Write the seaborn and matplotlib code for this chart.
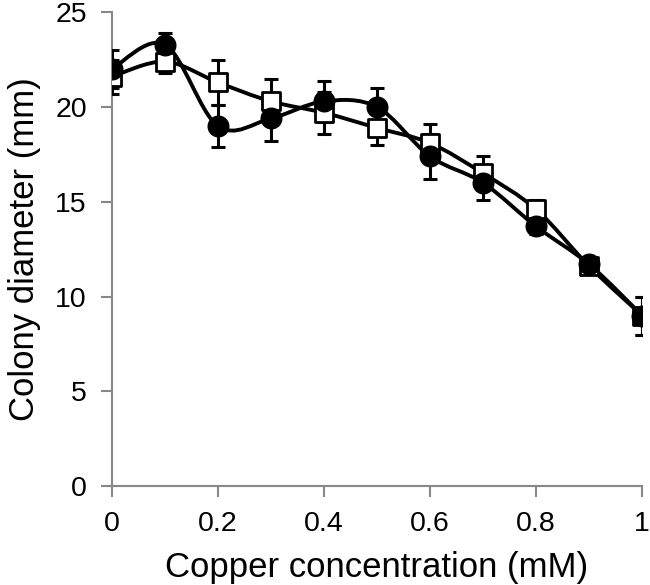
import numpy as np
import matplotlib
matplotlib.use('Agg')
import matplotlib.pyplot as plt
from matplotlib.path import Path
from matplotlib.patches import PathPatch
import seaborn as sns

# copper concentration (mM)
conc = [0.0, 0.1, 0.2, 0.3, 0.4, 0.5, 0.6, 0.7, 0.8, 0.9, 1.0]
# filled circles
circle_mean = [22.0, 23.3, 19.0, 19.4, 20.3, 20.0, 17.4, 16.0, 13.7, 11.7, 9.0]
circle_err = [1.0, 0.6, 1.1, 1.2, 1.1, 1.0, 1.2, 0.9, 0.4, 0.4, 1.0]
# open squares
square_mean = [21.6, 22.4, 21.3, 20.3, 19.7, 18.9, 18.1, 16.5, 14.6, 11.6, 9.0]
square_err = [0.9, 0.6, 1.2, 1.2, 1.1, 0.9, 1.0, 0.9, 0.5, 0.4, 1.0]

xticks = [0, 0.2, 0.4, 0.6, 0.8, 1]
xticklabels = ['0', '0.2', '0.4', '0.6', '0.8', '1']
yticks = [0, 5, 10, 15, 20, 25]


def smooth_path(x, y, t=1 / 6):
    # Excel-like smoothed line, drawn as cubic bezier segments
    x = np.asarray(x, float)
    y = np.asarray(y, float)
    n = len(x)
    verts = [(x[0], y[0])]
    codes = [Path.MOVETO]
    for i in range(n - 1):
        p0 = np.array([x[max(i - 1, 0)], y[max(i - 1, 0)]])
        p1 = np.array([x[i], y[i]])
        p2 = np.array([x[i + 1], y[i + 1]])
        p3 = np.array([x[min(i + 2, n - 1)], y[min(i + 2, n - 1)]])
        c1 = p1 + (p2 - p0) * t
        c2 = p2 - (p3 - p1) * t
        verts += [tuple(c1), tuple(c2), tuple(p2)]
        codes += [Path.CURVE4] * 3
    return Path(verts, codes)


sns.set_style('ticks')
plt.rcParams['font.family'] = ['Liberation Sans', 'DejaVu Sans']

fig = plt.figure(figsize=(6.5, 5.85), dpi=100)
ax = fig.add_axes([0.172, 0.169, 0.816, 0.810])

for m in (square_mean, circle_mean):
    ax.add_patch(PathPatch(smooth_path(conc, m), fill=False, edgecolor='black',
                           lw=2.8, zorder=2))

ax.errorbar(conc, square_mean, yerr=square_err, fmt='none', ecolor='black',
            elinewidth=2.2, capsize=5, capthick=2.2, zorder=3)
ax.errorbar(conc, circle_mean, yerr=circle_err, fmt='none', ecolor='black',
            elinewidth=2.2, capsize=5, capthick=2.2, zorder=3)

sns.scatterplot(x=conc, y=square_mean, marker='s', s=150, color='white',
                edgecolor='black', linewidth=2, ax=ax, zorder=4)
sns.scatterplot(x=conc, y=circle_mean, marker='o', s=220, color='black',
                edgecolor='black', linewidth=1, ax=ax, zorder=5)

ax.set_xlim(0, 1)
ax.set_ylim(0, 25)
ax.set_xticks(xticks)
ax.set_xticklabels(xticklabels)
ax.set_yticks(yticks)
ax.tick_params(axis='both', labelsize=20.5, color='#888888', labelcolor='black',
               length=8, width=1.5, pad=10)
for side in ('left', 'bottom'):
    ax.spines[side].set_color('#888888')
    ax.spines[side].set_linewidth(1.5)
sns.despine(ax=ax)
for s in ('left', 'bottom'):
    ax.spines[s].set_clip_on(False)

ax.set_xlabel('Copper concentration (mM)', fontsize=25, labelpad=10, color='black')
ax.set_ylabel('Colony diameter (mm)', fontsize=25, labelpad=10, color='black')

fig.savefig('out.png', dpi=100)
